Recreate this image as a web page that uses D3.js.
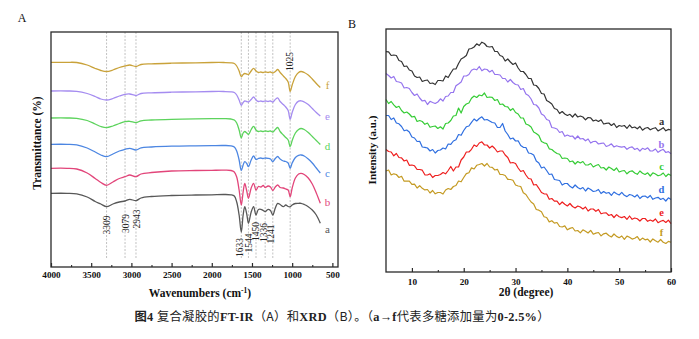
<!DOCTYPE html>
<html>
<head>
<meta charset="utf-8">
<script src="https://cdn.jsdelivr.net/npm/d3@7"></script>
<style>
  html, body { margin: 0; padding: 0; background: #fff; }
  svg { display: block; }
</style>
</head>
<body>
<div id="chart"></div>
<script>
// ---------- FT-IR (panel A) ----------
const wavenumbers = [4000, 3800, 3680, 3550, 3450, 3380, 3309, 3230, 3150, 3079,
  3020, 2943, 2880, 2750, 2500, 2200, 2000, 1850, 1760, 1720,
  1690, 1660, 1633, 1610, 1590, 1565, 1544, 1510, 1480, 1450,
  1420, 1390, 1360, 1336, 1300, 1270, 1241, 1210, 1180, 1150,
  1110, 1080, 1050, 1025, 1000, 960, 920, 890, 850, 800,
  750, 700, 650];

// stacked transmittance traces (arbitrary offset units)
const irA = [73.7, 73.7, 73.2, 70, 65.5, 63, 60.3, 63, 65, 66, 67.7, 66.3, 69, 70.5, 71.5, 72, 72.2, 72.5, 72.2, 71, 65, 52, 35, 52, 60.3, 53, 43.7, 55, 60.3, 52, 57.5, 57.7, 56.5, 55.3, 57.7, 56.5, 52, 59, 63.7, 62.5, 60.3, 62, 60.5, 60.3, 62, 63.5, 63.7, 63.7, 62.5, 60.3, 57, 52, 43.7];
const irB = [98.7, 98.7, 98, 94, 88.5, 84.5, 81.7, 85, 88.5, 90.3, 92, 90.3, 93, 94.5, 96, 96.5, 96.7, 96.8, 96.5, 95, 90, 77, 62, 75, 83.5, 76, 68.7, 79, 83.7, 77, 80.5, 80, 81.5, 79.5, 81, 80, 76.5, 80, 82, 79.5, 79, 78, 77, 70.3, 79, 89, 93, 93.7, 92.5, 89, 83, 74, 63.7];
const irC = [122.7, 122.7, 122.2, 119, 115, 112, 110.3, 113, 116, 117.7, 118.7, 117, 119.2, 120, 120.8, 121.2, 121.4, 121.5, 121.2, 120, 116, 107, 96.5, 102, 105.3, 103.5, 100.3, 107, 111, 107.5, 108.5, 109, 108.5, 109, 108.7, 108, 105.5, 108.5, 110.5, 108, 106, 105.5, 104, 98.7, 104, 109.5, 111.7, 112, 111, 108, 104, 99, 94];
const irD = [149, 149, 148.7, 146.5, 143, 140.5, 139.3, 141, 143.5, 145.3, 145.7, 144.3, 146.2, 147, 147.7, 148.1, 148.3, 148.3, 148, 147, 144, 137, 129.2, 134, 135.5, 134, 132.5, 137.5, 140.7, 137, 135.5, 136, 135.5, 136, 135.5, 136, 135, 137.5, 139.5, 135.5, 132, 129.5, 127, 120.3, 126.5, 134, 137.5, 138.5, 137.5, 134.5, 130.5, 126.5, 122.5];
const irE = [176, 176, 175.7, 173.5, 170.5, 168, 167, 168.5, 171, 172.7, 173, 171.5, 173.5, 174.2, 174.8, 175.2, 175.5, 175.5, 175.2, 174.5, 172, 167, 161.7, 164.5, 166, 165.5, 165, 167.5, 170, 167, 165.5, 166, 165.5, 166, 165.5, 166, 165, 167.5, 169.2, 165.5, 162.5, 160, 156.5, 147.7, 154.5, 162.5, 165.8, 166.2, 165, 162.5, 158.5, 154.5, 151];
const irF = [204.7, 204.7, 204.5, 202, 198.5, 196.5, 195.5, 197, 199.5, 201, 202, 200.5, 202.5, 203.2, 203.8, 204.2, 204.5, 204.5, 204.2, 203.5, 201, 196, 190.3, 192.5, 193.5, 193, 192.5, 196, 198.7, 196, 194.5, 195, 194.5, 195, 194.5, 195, 194, 195.5, 197.5, 194.5, 191, 188.5, 185, 175.5, 182, 190.5, 194.5, 195.5, 194.5, 192, 188, 183.5, 179.5];

const seriesNames = ["a", "b", "c", "d", "e", "f"];
const irColors = ["#585858", "#e2457a", "#4c86e2", "#5cd35c", "#a58cf0", "#c9a23a"];
const peakBands = [3309, 3079, 2943, 1633, 1544, 1450, 1336, 1241, 1025];
const irTicks = [4000, 3500, 3000, 2500, 2000, 1500, 1000, 500];
const irMinorTicks = [3750, 3250, 2750, 2250, 1750, 1250, 750];

// ---------- XRD (panel B) ----------
const twoTheta = d3.range(5, 60.001, 0.5);
const xrdA = [220.3, 220.2, 216.5, 217, 216.5, 211.5, 210.5, 205.5, 206, 202, 201, 196, 194.5, 195, 190.5, 191.5, 192, 188.5, 189, 187.5, 191.5, 191.5, 191, 196, 194.5, 199, 203, 203, 208.5, 213, 214.5, 216.5, 223, 223.5, 225, 228.2, 226.5, 229.8, 228.5, 225.5, 225, 225.5, 220.5, 220.5, 216.5, 215.5, 211, 213, 210, 207.5, 209, 204, 200.5, 200.5, 197.5, 193.5, 193.5, 187, 186.5, 183.5, 178.5, 178, 171.5, 170, 168, 163.5, 162.5, 158.5, 160.5, 158, 156.5, 157.7, 155, 158.2, 155, 156, 155, 152.2, 154.5, 154.2, 151, 152, 150.5, 152.2, 148, 148.7, 149, 146.5, 148.5, 144.5, 146.5, 145.7, 146.5, 143.7, 147, 144.2, 145, 143.2, 145.5, 141.8, 143.7, 144.5, 142.2, 143.5, 144.3, 141.1, 142.5, 144.3, 141.2, 142.6, 142];
const xrdB = [198.5, 196.5, 194, 195.5, 190.5, 190, 189, 184, 184.5, 183.5, 179.5, 176.5, 178, 174, 171, 171.7, 167.5, 170.7, 169.5, 168.5, 170, 173.2, 171, 175.5, 176, 179.5, 179.5, 186.2, 188, 190, 196, 196, 197.5, 201.7, 203, 202.2, 205.5, 201.2, 203, 202.5, 200, 201.7, 197.5, 197.5, 197, 193.5, 193.5, 190, 192.5, 189.5, 187.5, 187, 182.5, 183.5, 178, 176.5, 173, 167.5, 167, 164, 158, 156.5, 152.5, 151.5, 144.5, 144, 143, 139.5, 140.5, 135.7, 137, 135.7, 136, 133, 136, 133, 133.5, 131.2, 133, 129, 130.5, 130.7, 128, 128.7, 129, 125.5, 126.5, 128.2, 125, 126.2, 125.3, 124.9, 125.5, 122.7, 124.5, 125.2, 122.5, 123.7, 121, 123.7, 122.5, 124.2, 121, 121.2, 123, 119.7, 121.5, 122.7, 119.5, 120.4, 118.3];
const xrdC = [172.5, 168.5, 170.5, 167.2, 164.5, 165.7, 161.5, 159, 160, 158, 155, 155.7, 150.5, 151.5, 150.5, 147.7, 149, 144.7, 145.5, 146, 143.5, 145.2, 143, 148.5, 149, 151.5, 156, 156.5, 164, 159, 165.5, 168, 169, 173.7, 176, 174.5, 177, 176.2, 179, 174.5, 175, 174.7, 171.5, 172.5, 167.5, 168, 165.5, 165.2, 161.5, 163.5, 159.5, 158, 154, 154, 148, 147, 145, 140, 138.5, 136.5, 130.5, 129.2, 128.5, 123.2, 122.5, 120.2, 118.5, 117.7, 113.5, 114, 113.5, 110.2, 111, 108, 110.5, 109, 110.5, 107, 107, 108.5, 105, 106.5, 107.5, 104, 104.5, 102, 105, 103.5, 101.5, 104, 100, 101, 101.5, 98.2, 100.5, 101.2, 99, 97.7, 101, 98.7, 97.5, 99.2, 96, 99.2, 98, 96.2, 97, 99, 95.5, 98, 96.5];
const xrdD = [156.5, 156.5, 152.5, 154, 149, 148.2, 145.5, 141.2, 142, 140, 135, 134, 130.5, 130.7, 125, 124.7, 124, 121, 122.5, 119, 121.5, 122, 124, 123, 128, 127.7, 131, 132.2, 137.5, 136.7, 141.5, 145.2, 146, 149.7, 153, 151, 153.5, 155.2, 152, 152.5, 151, 149.5, 149, 144.5, 144.5, 148.5, 141, 137.5, 133, 134, 131, 131.2, 126.5, 124.7, 124.5, 119, 118.5, 117, 111, 109, 104, 105, 101.5, 97.5, 98, 92.5, 92, 91.5, 87, 88.5, 88.5, 85.7, 84, 87, 84.5, 83, 84.5, 81, 84, 82.5, 80.5, 81, 82.5, 78.5, 80.5, 78.7, 79.5, 76.7, 80, 78.2, 77, 79.6, 76.7, 75.4, 77.5, 76.7, 75, 77.2, 73.5, 75.7, 76, 74.2, 76.5, 72.7, 74, 74.7, 72.5, 73.7, 71, 74.2, 72.5];
const xrdE = [122.5, 120.5, 120, 116.2, 118.5, 114.5, 114.2, 111, 112, 106.7, 107, 106.2, 102.5, 102.5, 101.8, 97.2, 97, 98.2, 94.5, 96.5, 96.5, 97.5, 99.5, 98.2, 101.5, 105.5, 101, 105, 105, 112, 115, 120, 120, 122.7, 127, 125.5, 129, 130.2, 127, 127, 124, 126, 123.5, 120, 121, 121, 117, 114.5, 109, 109.5, 108.5, 104, 100.5, 101.5, 97, 93.5, 93, 87, 87.5, 83.7, 79.5, 78.2, 78, 72.7, 73.5, 70.9, 70.8, 67.4, 70, 67.7, 66, 68.5, 65.5, 64, 66, 65, 63, 65, 61, 63, 63, 60.7, 62.5, 58.2, 59, 59.2, 56.5, 57.5, 54.5, 57.4, 55.3, 54.4, 55.5, 52.7, 56, 52.7, 54, 53.2, 51, 53.5, 53.5, 50.7, 52, 50.7, 53, 49.3, 50.7, 51.6, 49.5, 51.9, 48.3];
const xrdF = [101, 102, 97, 98.2, 97.5, 94.5, 95.7, 90.8, 91, 90.8, 87.7, 87.8, 84, 86.3, 83.7, 82.1, 82.5, 79, 81.5, 78.2, 79.5, 79.5, 78, 82, 83.5, 82.5, 85.5, 86.5, 91, 90.2, 94.5, 98.4, 99.3, 104.1, 103, 106.7, 107.5, 108.5, 106, 108.5, 105, 104.7, 102, 102.7, 97.5, 97.5, 96.5, 92.7, 92.5, 91.7, 87, 86, 85.5, 79.2, 77.5, 73.5, 70, 68, 62.5, 61.8, 60.2, 55.3, 54.5, 50.1, 51.3, 48.9, 49.5, 45.5, 45, 46.1, 42.2, 43.6, 44.5, 41, 41.5, 39.1, 42.2, 40.8, 39, 41.6, 37.8, 38.9, 39.5, 36.1, 38.2, 38.8, 36.5, 35, 38, 35.6, 34.3, 36, 32.7, 35.9, 34.7, 32.9, 33.7, 35.4, 31.7, 33.9, 32.2, 32.8, 30, 33.1, 31.2, 29.8, 32.5, 29.7, 28.5, 30.6, 29.8];
const xrdColors = ["#343434", "#9574ee", "#36cc36", "#2f6fe0", "#ee1f1f", "#c49a22"];
const xrdTicks = [10, 20, 30, 40, 50, 60];
const xrdMinorTicks = [15, 25, 35, 45, 55];

const serif = "'Liberation Serif', 'Times New Roman', serif";
const cjk = "'Noto Sans CJK SC', sans-serif";

const svg = d3.select("#chart").append("svg")
  .attr("width", 699).attr("height", 339)
  .style("background", "#fff");

// ===== Panel A =====
const A = { left: 51, right: 338, top: 32, bottom: 267 };
const xA = d3.scaleLinear().domain([4000, 430]).range([A.left, A.right]);
const yA = d3.scaleLinear().domain([0, 235]).range([A.bottom, A.top]);

const gA = svg.append("g");

// marker bands behind the traces
gA.selectAll("line.band").data(peakBands).join("line")
  .attr("class", "band")
  .attr("x1", d => xA(d)).attr("x2", d => xA(d))
  .attr("y1", A.top).attr("y2", 258)
  .attr("stroke", "#a8a8a8").attr("stroke-width", 0.7)
  .attr("stroke-dasharray", "2,1.5");

const irSeries = [irA, irB, irC, irD, irE, irF];
const lineA = d3.line()
  .x((d, i) => xA(wavenumbers[i]))
  .y(d => yA(d))
  .curve(d3.curveCatmullRom.alpha(0.5));

gA.selectAll("path.ir").data(irSeries).join("path")
  .attr("class", "ir")
  .attr("d", lineA)
  .attr("fill", "none")
  .attr("stroke", (d, i) => irColors[i])
  .attr("stroke-width", 1.3);

// band labels
const bandLabelPos = {
  3309: [107.3, 225], 3079: [126, 223.5], 2943: [136.7, 219],
  1633: [239.5, 247.5], 1544: [249, 243], 1450: [256, 231.5],
  1336: [263.5, 232.5], 1241: [270.5, 234], 1025: [290, 61.5]
};
gA.selectAll("text.band").data(peakBands).join("text")
  .attr("class", "band")
  .attr("transform", d => `translate(${bandLabelPos[d][0]},${bandLabelPos[d][1]}) rotate(-90)`)
  .attr("text-anchor", "middle")
  .attr("dominant-baseline", "central")
  .attr("font-family", serif).attr("font-size", 9.5)
  .attr("fill", "#222")
  .text(d => d);

// series letters
const irLabelY = [229, 201.5, 173, 146, 115.5, 85];
gA.selectAll("text.sl").data(seriesNames).join("text")
  .attr("class", "sl")
  .attr("x", 327.5).attr("y", (d, i) => irLabelY[i])
  .attr("text-anchor", "middle").attr("dominant-baseline", "central")
  .attr("font-family", serif).attr("font-size", 11)
  .attr("fill", (d, i) => irColors[i])
  .text(d => d);

// frame
gA.append("rect")
  .attr("x", A.left).attr("y", A.top)
  .attr("width", A.right - A.left).attr("height", A.bottom - A.top)
  .attr("fill", "none").attr("stroke", "#2a2a2a").attr("stroke-width", 1.3);

// x axis (ticks inward)
const axA = gA.append("g").attr("transform", `translate(0,${A.bottom})`)
  .call(d3.axisBottom(xA).tickValues(irTicks).tickSizeInner(-4).tickSizeOuter(0).tickPadding(4).tickFormat(d3.format("d")));
axA.select(".domain").remove();
axA.selectAll("line").attr("stroke", "#2a2a2a").attr("stroke-width", 1.2);
axA.selectAll("text").attr("font-family", serif).attr("font-size", 9.2).attr("font-weight", "bold").attr("fill", "#111");
const axAm = gA.append("g").attr("transform", `translate(0,${A.bottom})`)
  .call(d3.axisBottom(xA).tickValues(irMinorTicks).tickSizeInner(-2).tickSizeOuter(0).tickFormat(""));
axAm.select(".domain").remove();
axAm.selectAll("line").attr("stroke", "#2a2a2a").attr("stroke-width", 1.1);

// axis titles
const xtA = gA.append("text")
  .attr("x", 200).attr("y", 297)
  .attr("text-anchor", "middle")
  .attr("font-family", serif).attr("font-size", 11.5).attr("font-weight", "bold").attr("fill", "#111");
xtA.append("tspan").text("Wavenumbers (cm");
xtA.append("tspan").attr("font-size", 7.5).attr("dy", -4.5).text("-1");
xtA.append("tspan").attr("dy", 4.5).text(")");

gA.append("text")
  .attr("transform", "translate(37,143) rotate(-90)")
  .attr("text-anchor", "middle").attr("dominant-baseline", "central")
  .attr("font-family", serif).attr("font-size", 11.5).attr("font-weight", "bold").attr("fill", "#111")
  .text("Transmittance (%)");

gA.append("text")
  .attr("x", 22).attr("y", 22)
  .attr("text-anchor", "middle")
  .attr("font-family", serif).attr("font-size", 12).attr("fill", "#111")
  .text("A");

// ===== Panel B =====
const B = { left: 386, right: 671, top: 29, bottom: 272 };
const xB = d3.scaleLinear().domain([5, 60]).range([B.left, B.right]);
const yB = d3.scaleLinear().domain([0, 243]).range([B.bottom, B.top]);
const gB = svg.append("g");

const xrdSeries = [xrdA, xrdB, xrdC, xrdD, xrdE, xrdF];
const lineB = d3.line()
  .x((d, i) => xB(twoTheta[i]))
  .y(d => yB(d));

gB.selectAll("path.xrd").data(xrdSeries).join("path")
  .attr("class", "xrd")
  .attr("d", lineB)
  .attr("fill", "none")
  .attr("stroke", (d, i) => xrdColors[i])
  .attr("stroke-width", 1.2)
  .attr("stroke-linejoin", "round");

const xrdLabelY = [121, 144, 166.7, 189.3, 212.7, 232.7];
gB.selectAll("text.sl").data(seriesNames).join("text")
  .attr("class", "sl")
  .attr("x", 661.5).attr("y", (d, i) => xrdLabelY[i])
  .attr("text-anchor", "middle").attr("dominant-baseline", "central")
  .attr("font-family", serif).attr("font-size", 10.5).attr("font-weight", "bold")
  .attr("fill", (d, i) => xrdColors[i])
  .text(d => d);

gB.append("rect")
  .attr("x", B.left).attr("y", B.top)
  .attr("width", B.right - B.left).attr("height", B.bottom - B.top)
  .attr("fill", "none").attr("stroke", "#2a2a2a").attr("stroke-width", 1.3);

const axB = gB.append("g").attr("transform", `translate(0,${B.bottom})`)
  .call(d3.axisBottom(xB).tickValues(xrdTicks).tickSizeInner(-4).tickSizeOuter(0).tickPadding(6.5));
axB.select(".domain").remove();
axB.selectAll("line").attr("stroke", "#2a2a2a").attr("stroke-width", 1.2);
axB.selectAll("text").attr("font-family", serif).attr("font-size", 9.2).attr("font-weight", "bold").attr("fill", "#111");
const axBm = gB.append("g").attr("transform", `translate(0,${B.bottom})`)
  .call(d3.axisBottom(xB).tickValues(xrdMinorTicks).tickSizeInner(-2).tickSizeOuter(0).tickFormat(""));
axBm.select(".domain").remove();
axBm.selectAll("line").attr("stroke", "#2a2a2a").attr("stroke-width", 1.1);

gB.append("text")
  .attr("x", 526).attr("y", 296)
  .attr("text-anchor", "middle")
  .attr("font-family", serif).attr("font-size", 11.5).attr("font-weight", "bold").attr("fill", "#111")
  .text("2θ (degree)");

gB.append("text")
  .attr("transform", "translate(372,150) rotate(-90)")
  .attr("text-anchor", "middle").attr("dominant-baseline", "central")
  .attr("font-family", serif).attr("font-size", 11).attr("font-weight", "bold").attr("fill", "#111")
  .text("Intensity (a.u.)");

gB.append("text")
  .attr("x", 352).attr("y", 28)
  .attr("text-anchor", "middle")
  .attr("font-family", serif).attr("font-size", 12).attr("fill", "#111")
  .text("B");

// ===== Caption =====
const captionParts = [
  ["图", cjk, "bold"], ["4 ", serif, "bold"], ["复合凝胶的", cjk, "normal"],
  ["FT-IR", serif, "bold"], ["（A）", cjk, "normal"], ["和", cjk, "normal"],
  ["XRD", serif, "bold"], ["（B）。（", cjk, "normal"], ["a→f", serif, "bold"],
  ["代表多糖添加量为", cjk, "normal"], ["0-2.5%", serif, "bold"], ["）", cjk, "normal"]
];
const cap = svg.append("text")
  .attr("x", 342).attr("y", 321)
  .attr("text-anchor", "middle")
  .attr("font-size", 12.3).attr("fill", "#222")
  .attr("textLength", 415).attr("lengthAdjust", "spacing");
cap.selectAll("tspan").data(captionParts).join("tspan")
  .attr("font-family", d => d[1])
  .attr("font-weight", d => d[2])
  .text(d => d[0]);
</script>
</body>
</html>
